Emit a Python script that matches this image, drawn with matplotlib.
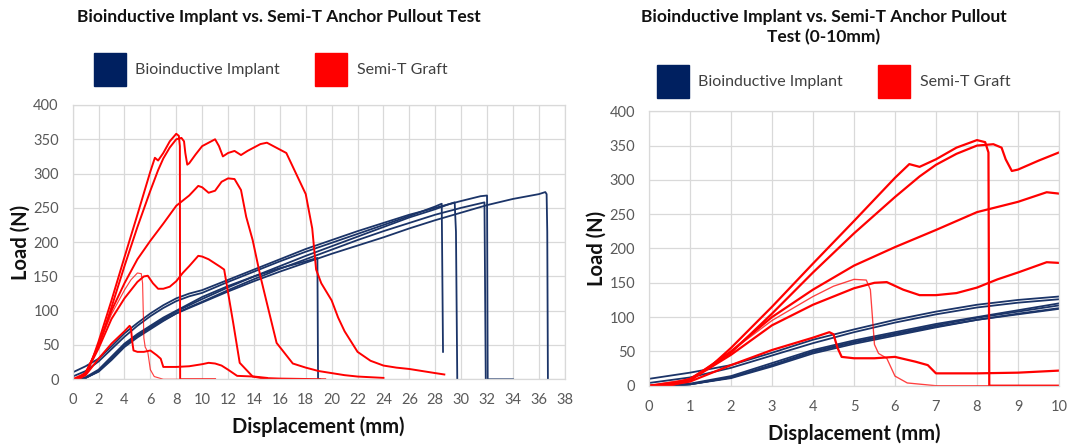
import matplotlib
matplotlib.use('Agg')
import matplotlib.pyplot as plt
from matplotlib.patches import Patch

plt.rcParams['font.family'] = ['Lato', 'DejaVu Sans']

# Bioinductive implant curves (displacement mm, load N)
impl_a_x = [0, 1, 2, 3, 4, 5, 6, 7, 8, 9, 10, 12, 14, 16, 18, 20, 22, 24, 26, 28, 30, 31.5, 32, 32.05, 34]
impl_a_y = [10, 19, 30, 48, 67, 82, 96, 108, 118, 125, 130, 145, 160, 175, 190, 203, 216, 228, 240, 250, 260, 267, 268, 0, 0]
impl_b_x = [0, 1, 2, 3, 4, 5, 6, 7, 8, 9, 10, 12, 14, 16, 18, 20, 22, 24, 26, 28, 28.5, 28.6]
impl_b_y = [4, 12, 26, 44, 62, 78, 92, 104, 114, 121, 126, 142, 157, 172, 186, 199, 212, 225, 238, 252, 256, 40]
impl_c_x = [0.4, 1, 2, 3, 4, 5, 6, 7, 8, 9, 10, 12, 14, 16, 18, 18.9, 18.95, 19.1]
impl_c_y = [0, 3, 14, 33, 52, 66, 78, 90, 100, 110, 120, 136, 150, 162, 172, 177, 0, 0]
impl_d_x = [0.5, 1, 2, 3, 4, 5, 6, 7, 8, 9, 10, 12, 14, 16, 18, 20, 22, 24, 26, 28, 29, 29.5, 29.6, 29.7]
impl_d_y = [0, 2, 12, 30, 50, 64, 76, 88, 99, 108, 117, 134, 150, 165, 180, 194, 208, 222, 236, 248, 255, 258, 215, 0]
impl_e_x = [0.6, 1, 2, 3, 4, 5, 6, 7, 8, 9, 10, 12, 14, 16, 18, 20, 22, 24, 26, 28, 30, 31.8, 31.9]
impl_e_y = [0, 2, 11, 28, 47, 61, 73, 85, 96, 105, 113, 130, 146, 161, 175, 189, 203, 216, 228, 240, 250, 258, 0]
impl_f_x = [0.5, 1, 2, 3, 4, 5, 6, 7, 8, 9, 10, 12, 14, 16, 18, 20, 22, 24, 26, 28, 30, 32, 34, 36, 36.5, 36.6, 36.65, 36.7]
impl_f_y = [0, 2, 12, 30, 49, 63, 75, 86, 96, 104, 112, 128, 143, 157, 170, 183, 195, 207, 220, 232, 243, 254, 263, 270, 273, 270, 215, 0]

# Semi-T graft curves
graft_a_x = [0, 0.5, 1, 1.5, 2, 3, 4, 5, 6, 6.35, 6.6, 7, 7.5, 8, 8.2, 8.28, 8.3, 11]
graft_a_y = [0, 2, 10, 28, 55, 115, 178, 240, 303, 323, 319, 330, 347, 358, 355, 340, 0, 0]
graft_b_x = [0.5, 1, 2, 3, 4, 5, 6, 6.6, 7, 7.5, 8, 8.4, 8.6, 8.7, 8.85, 9, 9.5, 10, 10.5, 11, 11.3, 11.6, 12,
             12.5, 13, 13.5, 14.5, 15, 15.5, 16.5, 17.5, 18, 18.5, 18.8, 19.2, 20, 20.5, 21, 21.5, 22, 23, 24,
             25, 26, 27, 28, 28.7]
graft_b_y = [0, 8, 48, 105, 165, 222, 275, 305, 322, 338, 350, 352, 347, 330, 313, 315, 328, 340, 345, 350, 340,
             325, 330, 333, 327, 333, 343, 345, 340, 330, 290, 270, 220, 160, 140, 115, 90, 70, 55, 40, 27, 20,
             17, 15, 12, 9, 7]
graft_c_x = [0.3, 1, 2, 3, 4, 5, 6, 7, 8, 9, 9.7, 10, 10.5, 11, 11.5, 12, 12.5, 13, 13.4, 13.9, 14.5, 15,
             15.75, 17, 18, 19, 20, 21, 22, 23, 24]
graft_c_y = [0, 8, 50, 100, 140, 175, 202, 227, 253, 268, 282, 280, 272, 275, 288, 293, 292, 276, 237, 203, 150,
             111, 53, 23, 17, 12, 9, 6, 4, 3, 2]
graft_d_x = [0, 1, 2, 3, 4, 5, 5.5, 5.8, 6.2, 6.6, 7, 7.5, 8, 8.5, 9, 9.7, 10, 10.5, 11.4, 11.7, 12.4, 12.9,
             13.9, 14.5, 16, 19.5]
graft_d_y = [0, 8, 45, 88, 118, 142, 150, 151, 140, 132, 132, 135, 143, 155, 165, 180, 179, 175, 164, 160, 82,
             24, 4, 2, 1, 0]
graft_e_x = [0, 1, 2, 3, 4, 4.5, 5, 5.3, 5.4, 5.5, 5.6, 5.8, 6.0, 6.3, 7, 11]
graft_e_y = [0, 10, 50, 95, 130, 145, 155, 154, 140, 60, 47, 40, 14, 4, 0, 0]
graft_f_x = [0, 0.5, 1, 2, 3, 4, 4.4, 4.5, 4.6, 4.7, 5, 5.5, 6, 6.5, 6.8, 7, 8, 9, 10, 10.5, 11, 11.5, 12,
             12.7, 14, 15]
graft_f_y = [0, 1, 6, 30, 52, 70, 78, 75, 55, 42, 40, 40, 42, 35, 30, 18, 18, 19, 22, 24, 23, 20, 14, 5, 4, 2]

implant_curves = [(impl_a_x, impl_a_y), (impl_b_x, impl_b_y), (impl_c_x, impl_c_y),
                  (impl_d_x, impl_d_y), (impl_e_x, impl_e_y), (impl_f_x, impl_f_y)]
graft_curves = [(graft_a_x, graft_a_y), (graft_b_x, graft_b_y), (graft_c_x, graft_c_y),
                (graft_d_x, graft_d_y), (graft_f_x, graft_f_y)]
graft_thin = (graft_e_x, graft_e_y)

navy = '#1B3468'
red = '#FF0000'
grid_c = '#D9D9D9'
tick_c = '#595959'

fig = plt.figure(figsize=(10.7, 4.46), dpi=100)
ax1 = fig.add_axes([0.0679, 0.1496, 0.4599, 0.6150])
ax2 = fig.add_axes([0.6065, 0.1352, 0.3832, 0.6153])


def style_axis(ax, xmax, xstep):
    ax.set_xlim(0, xmax)
    ax.set_ylim(0, 400)
    ax.set_xticks(range(0, xmax + 1, xstep))
    ax.set_yticks(range(0, 401, 50))
    ax.grid(True, color=grid_c, linewidth=0.9)
    ax.set_axisbelow(True)
    for s in ax.spines.values():
        s.set_color(grid_c)
        s.set_linewidth(0.9)
    ax.tick_params(length=0, pad=10, labelsize=10.5, colors=tick_c)
    ax.set_xlabel('Displacement (mm)', fontsize=14.5, fontweight='bold', labelpad=7, color='#111111')
    ax.set_ylabel('Load (N)', fontsize=14.5, fontweight='bold', labelpad=2, color='#111111')


for ax, xmax, xstep, lw in [(ax1, 38, 2, 1.4), (ax2, 10, 1, 1.6)]:
    style_axis(ax, xmax, xstep)
    for cx, cy in implant_curves:
        ax.plot(cx, cy, color=navy, linewidth=1.3)
    for cx, cy in graft_curves:
        ax.plot(cx, cy, color=red, linewidth=lw)
    ax.plot(graft_thin[0], graft_thin[1], color=red, linewidth=lw * 0.6, alpha=0.75)

handles = [Patch(facecolor='#002060', edgecolor='#002060', label='Bioinductive Implant'),
           Patch(facecolor=red, edgecolor=red, label='Semi-T Graft')]
for x0, y0 in [(0.080, 0.844), (0.6065, 0.818)]:
    fig.legend(handles=handles, loc='center left', bbox_to_anchor=(x0, y0), ncol=2, frameon=False,
               fontsize=11.5, handlelength=2.0, handleheight=2.8, handletextpad=0.6, columnspacing=2.2,
               borderpad=0, labelcolor='#404040')

fig.text(279 / 1070, 1 - 17 / 446, 'Bioinductive Implant vs. Semi-T Anchor Pullout Test',
         ha='center', va='center', fontsize=12.5, fontweight='bold', color='#111111')
fig.text(824 / 1070, 1 - 27 / 446, 'Bioinductive Implant vs. Semi-T Anchor Pullout\nTest (0-10mm)',
         ha='center', va='center', fontsize=12.5, fontweight='bold', color='#111111', linespacing=1.35)

plt.savefig('out.png', dpi=100)
